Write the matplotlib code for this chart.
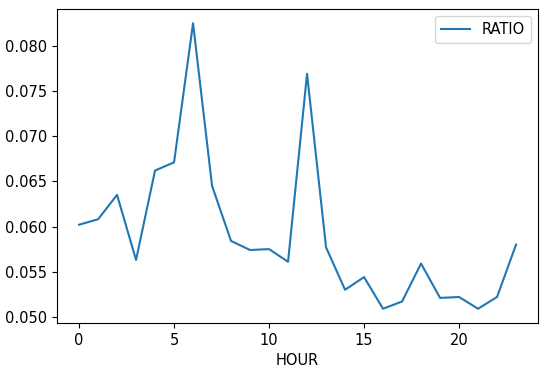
import matplotlib
matplotlib.use("Agg")
import matplotlib.pyplot as plt
import pandas as pd

hours = list(range(24))
ratio = [0.0602, 0.0608, 0.0635, 0.0563, 0.0662, 0.0671, 0.0825, 0.0645,
         0.0584, 0.0574, 0.0575, 0.0561, 0.0769, 0.0577, 0.0530, 0.0544,
         0.0509, 0.0517, 0.0559, 0.0521, 0.0522, 0.0509, 0.0522, 0.0580]

df = pd.DataFrame({"HOUR": hours, "RATIO": ratio}).set_index("HOUR")

plt.rcParams["font.size"] = 10.5
fig, ax = plt.subplots(figsize=(5.5, 3.73), dpi=100)
df.plot(ax=ax, color="#1f77b4", lw=1.5)
ax.set_xticks([0, 5, 10, 15, 20])
ax.set_yticks([0.050, 0.055, 0.060, 0.065, 0.070, 0.075, 0.080])
ax.legend(loc="upper right")
fig.subplots_adjust(left=0.104, right=0.978, top=0.976, bottom=0.134)
fig.savefig("out.png")
